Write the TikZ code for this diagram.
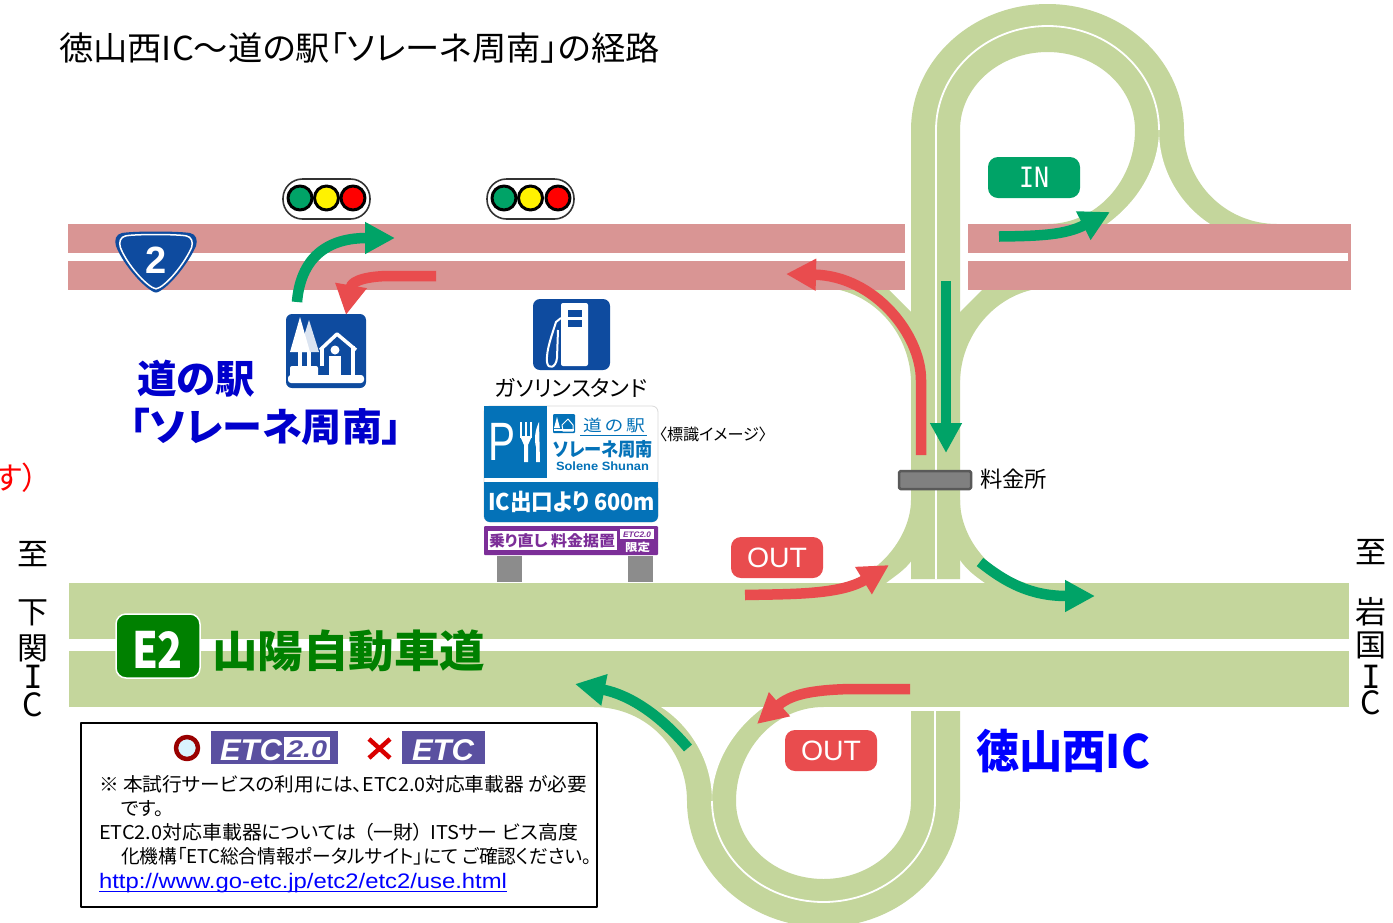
\documentclass[tikz,border=0pt]{standalone}
\usepackage{graphicx}
\usepackage{fontspec}
\setmainfont[RawFeature=+palt]{Noto Sans CJK JP}
\newfontfamily\lat{Liberation Sans}
\newfontfamily\slab{DejaVu Sans Mono}
\usetikzlibrary{arrows.meta}
\definecolor{roadg}{HTML}{C4D69C}
\definecolor{roadp}{HTML}{D99594}
\definecolor{argreen}{HTML}{00A367}
\definecolor{arred}{HTML}{E94C4E}
\definecolor{sblue}{HTML}{0E4B9F}
\definecolor{signb}{HTML}{0472B8}
\definecolor{purp}{HTML}{7C2E98}
\definecolor{etcb}{HTML}{5A50A0}
\definecolor{tblue}{HTML}{0000CC}
\definecolor{tgreen}{HTML}{008000}
\newcommand\fw[2]{\resizebox{#1pt}{\height}{#2}}
\newcommand\fsz[1]{\fontsize{#1pt}{#1pt}\selectfont}
\newcommand\shieldpath{(122,233) .. controls (133,231) and (178,231) .. (190,233) .. controls (196,234) and (198,240) .. (196,246) .. controls (189,262) and (172,284) .. (160,291) .. controls (157,293) and (155,293) .. (152,291) .. controls (140,284) and (122,262) .. (116,246) .. controls (114,240) and (116,234) .. (122,233) -- cycle}
\tikzset{
  tx/.style={anchor=base west,inner sep=0pt,outer sep=0pt},
  txc/.style={anchor=base,inner sep=0pt,outer sep=0pt},
  gr/.style={-{Triangle[length=30pt,width=30pt]},line width=10.5pt,argreen},
  rd/.style={-{Triangle[length=30pt,width=30pt]},line width=10.5pt,arred},
  lampr/.style={line width=3pt,draw=black,minimum size=0pt},
  capsule/.style={draw=black!80,line width=1.6pt,fill=white,rounded corners=19.5pt},
  tag/.style={rounded corners=10pt,minimum width=92pt,minimum height=41pt,inner sep=0pt,text=white},
}
\begin{document}
\begin{tikzpicture}[x=1pt,y=-1pt,line join=round]
\useasboundingbox (0,0) rectangle (1393,922);
\clip (0,0) rectangle (1393,922);
\fill[white] (0,0) rectangle (1393,922);

% upper loop
\fill[roadg] (911,579) -- (911,130) .. controls (911,60.4) and (972.1,4) .. (1047.5,4) .. controls (1122.9,4) and (1184,60.4) .. (1184,130) .. controls (1184,182) and (1225,224) .. (1277,224) -- (1277,230) -- (1047.5,230) -- (1047.5,224) .. controls (1095.8,224) and (1135,181.4) .. (1135,130) .. controls (1135,86.9) and (1095.8,52) .. (1047.5,52) .. controls (999.2,52) and (960,86.9) .. (960,130) -- (960,579) -- cycle;
\fill[white] (1159,130) .. controls (1159,165) and (1140,200) .. (1107,224) -- (1107,226) -- (1210,226) -- (1210,224) .. controls (1185,208) and (1159,175) .. (1159,130) -- cycle;
\draw[white,line width=1.8pt] (936,579) -- (936,130) .. controls (936,72.6) and (985.9,26) .. (1047.5,26) .. controls (1109.1,26) and (1159,72.6) .. (1159,130);
% ramps under the national road
\fill[roadg] (960,380) .. controls (962,330) and (1000,292) .. (1043,288) -- (984,288) -- (960,312) -- cycle;
\fill[roadg] (911,380) .. controls (909,330) and (871,292) .. (828,288) -- (887,288) -- (911,312) -- cycle;
% flare to the expressway
\fill[roadg] (911,500) .. controls (911,535) and (880,578) .. (835,585) -- (886,585) -- (886,583) .. controls (895,576) and (905,570) .. (912,560) -- cycle;
\fill[roadg] (960,500) .. controls (960,540) and (995,583) .. (1040,585) -- (985,585) -- (985,583) .. controls (975,576) and (967,570) .. (960,560) -- cycle;
% lower loop
\fill[roadg] (960,711) -- (960,801) .. controls (960,870.6) and (898.9,927) .. (823.5,927) .. controls (748.1,927) and (687,870.6) .. (687,801) .. controls (687,749) and (646,707) .. (594,707) -- (594,701) -- (823.5,701) -- (823.5,707) .. controls (775.2,707) and (736,749.6) .. (736,801) .. controls (736,844.1) and (775.2,879) .. (823.5,879) .. controls (871.8,879) and (911,844.1) .. (911,801) -- (911,711) -- cycle;
\fill[white] (712,801) .. controls (712,766) and (731,731) .. (764,707) -- (764,705) -- (661,705) -- (661,707) .. controls (686,723) and (712,756) .. (712,801) -- cycle;
\draw[white,line width=1.8pt] (935,711) -- (935,801) .. controls (935,856.8) and (885.1,902) .. (823.5,902) .. controls (761.9,902) and (712,856.8) .. (712,801);

% national road
\fill[roadp] (68,224) rectangle (905,290);
\fill[roadp] (968,224) rectangle (1351,290);
\fill[white] (68,253) rectangle (905,260.5);
\fill[white] (968,253) rectangle (1348,260.5);
% expressway
\fill[roadg] (69,583) rectangle (1349,639);
\fill[roadg] (69,651) rectangle (1349,707);

% title
\node[tx] (title) at (59,60) {\fsz{33}\fw{601}{徳山西IC～道の駅「ソレーネ周南」の経路}};
\node[anchor=base east,inner sep=0pt,text=red] (cut) at (38,489) {\fsz{31}す）};

% route shield
\fill[sblue] \shieldpath;
\draw[white,line width=1.5pt,shift={(156,259)},scale=.89,shift={(-156,-259)}] \shieldpath;
\node[txc,text=white] (rt2) at (156,273) {\fsz{38}\bfseries\lat 2};

% signals
\draw[capsule] (283,179) rectangle (370,219);
\draw[capsule] (487,179) rectangle (574,219);
\filldraw[lampr,fill=argreen] (300,198) circle (12);
\filldraw[lampr,fill=yellow] (326.5,198) circle (12);
\filldraw[lampr,fill=red] (353,198) circle (12);
\filldraw[lampr,fill=argreen] (504,198) circle (12);
\filldraw[lampr,fill=yellow] (530.5,198) circle (12);
\filldraw[lampr,fill=red] (558,198) circle (12);

% roadside station icon
\fill[sblue,rounded corners=6pt] (286,314) rectangle (366,388);
\fill[white!85!sblue] (309,320) -- (319,352) -- (299,352) -- cycle;
\fill[white] (300,317) -- (310,352) -- (290,352) -- cycle;
\fill[white] (298,352) rectangle (302,366);
\fill[white] (307,352) rectangle (311,366);
\fill[white,rounded corners=2pt] (290,366) rectangle (318,378);
\fill[white,rounded corners=3pt] (288,375) rectangle (364,383);
\draw[white,line width=3.5pt] (320,350) -- (337,334) -- (356,350);
\draw[white,line width=3.5pt] (353,346) -- (353,377);
\draw[white,line width=3.5pt] (322,348) -- (322,366);
\fill[white] (329,356) rectangle (341,376);
\fill[white] (335,350) circle (4.5);

% gas pump icon
\fill[sblue,rounded corners=7pt] (533,299) rectangle (610,370);
\fill[white,rounded corners=2pt] (561,303) rectangle (588,366);
\fill[sblue] (568,310) rectangle (582,317);
\fill[sblue] (568,320) rectangle (582,327);
\draw[white,line width=2pt] (561,318) -- (556,322) .. controls (552,335) and (546,350) .. (547,362) .. controls (548,370) and (556,368) .. (557,358) -- (558,330);

\node[tx] (gas) at (495,396) {\fsz{22}\fw{152}{ガソリンスタンド}};

% guide sign
\filldraw[draw=black!15,line width=.8pt,fill=white,rounded corners=6pt] (484,406) rectangle (658,522);
\fill[signb] (484,406) rectangle (547,478);
\fill[signb,rounded corners=6pt] (484,482) rectangle (658,522);
\fill[signb] (484,482) rectangle (658,490);
\node[tx,text=white] (signp) at (488,460) {\fsz{54}\lat\fw{27}{P}};
% fork and knife
\fill[white] (520,422) rectangle (522,438);
\fill[white] (525,422) rectangle (527,438);
\fill[white] (530,422) rectangle (532,438);
\fill[white] (520,436) -- (532,436) -- (528,445) -- (528,462) -- (524,462) -- (524,445) -- cycle;
\fill[white] (539,422) .. controls (535,430) and (534,440) .. (536,447) -- (536,462) -- (540,462) -- cycle;
% small icon
\fill[signb,rounded corners=1pt] (553,414) rectangle (575,433);
\fill[white] (557,417) -- (560,428) -- (554,428) -- cycle;
\draw[white,line width=1pt] (562,425) -- (568,419) -- (573,425) -- (573,431) -- (563,431) -- cycle;
\fill[white] (554,429) rectangle (574,431);
\node[tx,text=signb] (signa) at (583,431) {\fsz{16}\fw{62}{道\,の\,駅}};
\draw[signb,line width=1pt] (580,435) -- (647,435);
\node[tx,text=signb] (signb1) at (553,456) {\fsz{19}\bfseries\fw{100}{ソレーネ周南}};
\node[tx,text=signb] (signb2) at (556,470) {\fsz{12}\bfseries\lat\fw{93}{Solene Shunan}};
\node[tx,text=white] (signc) at (488,510) {\fsz{23}\bfseries\fw{167}{IC出口より 600m}};
% purple band
\fill[purp,rounded corners=1pt] (484,526) rectangle (658,555);
\fill[white] (488,531) rectangle (617,550);
\fill[white] (620,529) rectangle (654,539);
\node[tx,text=purp] (signd) at (489,546) {\fsz{15}\bfseries\fw{126}{乗り直し 料金据置}};
\node[tx,text=purp] (signe) at (623,537) {\fsz{8}\bfseries\lat\itshape\fw{28}{ETC2.0}};
\node[tx,text=white] (signf) at (625,551) {\fsz{11}\bfseries\fw{25}{限定}};
\fill[black!45] (497,556) rectangle (522,582);
\fill[black!45] (628,556) rectangle (653,582);
\node[tx] (imagel) at (659,440) {\fsz{16}\fw{108}{〈標識イメージ〉}};

% toll gate
\filldraw[draw=black!65,fill=black!50,line width=2.5pt,rounded corners=1.5pt] (899,471) rectangle (971,489);
\node[tx] (toll) at (980,487) {\fsz{22}\fw{67}{料金所}};

% tags
\node[tag,fill=argreen] (tagin) at (1034,177.5) {\fsz{28}\slab\fw{30}{IN}};
\node[tag,fill=arred] (tagout1) at (777,557.5) {\fsz{28}\lat\fw{60}{OUT}};
\node[tag,fill=arred] (tagout2) at (831,750.5) {\fsz{28}\lat\fw{60}{OUT}};

% route arrows
\coordinate (a1s) at (297,302); \coordinate (a1e) at (395,238);
\draw[gr] (a1s) .. controls (300,265) and (320,238) .. (a1e);
\coordinate (a2s) at (436,276); \coordinate (a2e) at (346,315);
\draw[rd] (a2s) -- (390,276) .. controls (370,276) and (352,280) .. (a2e);
\coordinate (a3s) at (921,455); \coordinate (a3e) at (786,274);
\draw[rd] (a3s) -- (921,380) .. controls (921,335) and (875,276) .. (a3e);
\coordinate (a4s) at (946,281); \coordinate (a4e) at (946,453);
\draw[gr] (a4s) -- (a4e);
\coordinate (a5s) at (999,236.5); \coordinate (a5e) at (1110,212);
\draw[gr] (a5s) .. controls (1040,236) and (1065,235) .. (a5e);
\coordinate (a6s) at (745,595); \coordinate (a6e) at (889,565);
\draw[rd] (a6s) .. controls (790,594) and (840,595) .. (a6e);
\coordinate (a7s) at (980,562); \coordinate (a7e) at (1095,596);
\draw[gr] (a7s) .. controls (1005,582) and (1030,596) .. (a7e);
\coordinate (a8s) at (910,689); \coordinate (a8e) at (757,724);
\draw[rd] (a8s) -- (850,689) .. controls (810,690) and (790,695) .. (a8e);
\coordinate (a9s) at (688,748); \coordinate (a9e) at (575,684);
\draw[gr] (a9s) .. controls (660,715) and (630,695) .. (a9e);

% labels
\node[tx,text=tblue] (st1) at (137,393) {\fsz{39}\bfseries\fw{118}{道の駅}};
\node[tx,text=tblue] (st2) at (130,441) {\fsz{39}\bfseries\fw{272}{「ソレーネ周南」}};
\node[tx,text=blue] (icname) at (976,768) {\fsz{46}\bfseries\fw{174}{徳山西IC}};

% E2
\filldraw[draw=white,line width=1.5pt,fill=tgreen,rounded corners=10pt] (116,614) rectangle (200,678);
\node[tx,text=white] (e2) at (132,668) {\fsz{50}\bfseries\fw{51}{E2}};
\node[tx,text=tgreen] (exname) at (212,667) {\fsz{44}\bfseries\fw{273}{山陽自動車道}};

% destinations
\node[txc] (l1) at (33,565) {\fsz{31}至};
\node[txc] (l2) at (33,623) {\fsz{31}下};
\node[txc] (l3) at (33,659) {\fsz{31}関};
\node[inner sep=0pt,align=center,font=\fontsize{32pt}{28pt}\selectfont] (l4) at (33,691) {\slab I\\C};
\node[txc] (r1) at (1371,563) {\fsz{31}至};
\node[txc] (r2) at (1371,623) {\fsz{31}岩};
\node[txc] (r3) at (1371,656) {\fsz{31}国};
\node[inner sep=0pt,align=center,font=\fontsize{32pt}{26pt}\selectfont] (r4) at (1371,690) {\slab I\\C};

% note box
\draw[black,line width=2pt] (81,723) rectangle (597,907);
\draw[red!60!black,line width=4.5pt,fill=white!85!cyan] (187,748) circle (11);
\fill[etcb] (211,731) rectangle (338,764);
\fill[white] (284,737) rectangle (330,760);
\node[tx,text=white] (etc20) at (220,760) {\fsz{30}\bfseries\lat\itshape\fw{62}{ETC}};
\node[tx,text=etcb] (etc20b) at (287,757) {\fsz{24}\bfseries\lat\itshape\fw{40}{2.0}};
\draw[red!85!black,line width=4.5pt] (369,739) -- (390,758) (390,739) -- (369,758);
\fill[etcb] (402,731) rectangle (485,764);
\node[tx,text=white] (etcx) at (412,760) {\fsz{30}\bfseries\lat\itshape\fw{62}{ETC}};
\node[tx] (n1) at (99,791) {\fsz{19}\fw{488}{※ 本試行サービスの利用には、ETC2.0対応車載器 が必要}};
\node[tx] (n2) at (121,815) {\fsz{19}\fw{43}{です。}};
\node[tx] (n3) at (99,839) {\fsz{19}\fw{479}{ETC2.0対応車載器については\hspace{7pt}（一財）\hspace{7pt}ITSサー ビス高度}};
\node[tx] (n4) at (121,863) {\fsz{19}\fw{471}{化機構「ETC総合情報ポータルサイト」にて ご確認ください。}};
\node[tx,text=blue] (n5) at (99,888) {\fsz{21}\lat\fw{408}{http://www.go-etc.jp/etc2/etc2/use.html}};
\draw[blue,line width=1pt] (99,891) -- (507,891);
\end{tikzpicture}
\end{document}
